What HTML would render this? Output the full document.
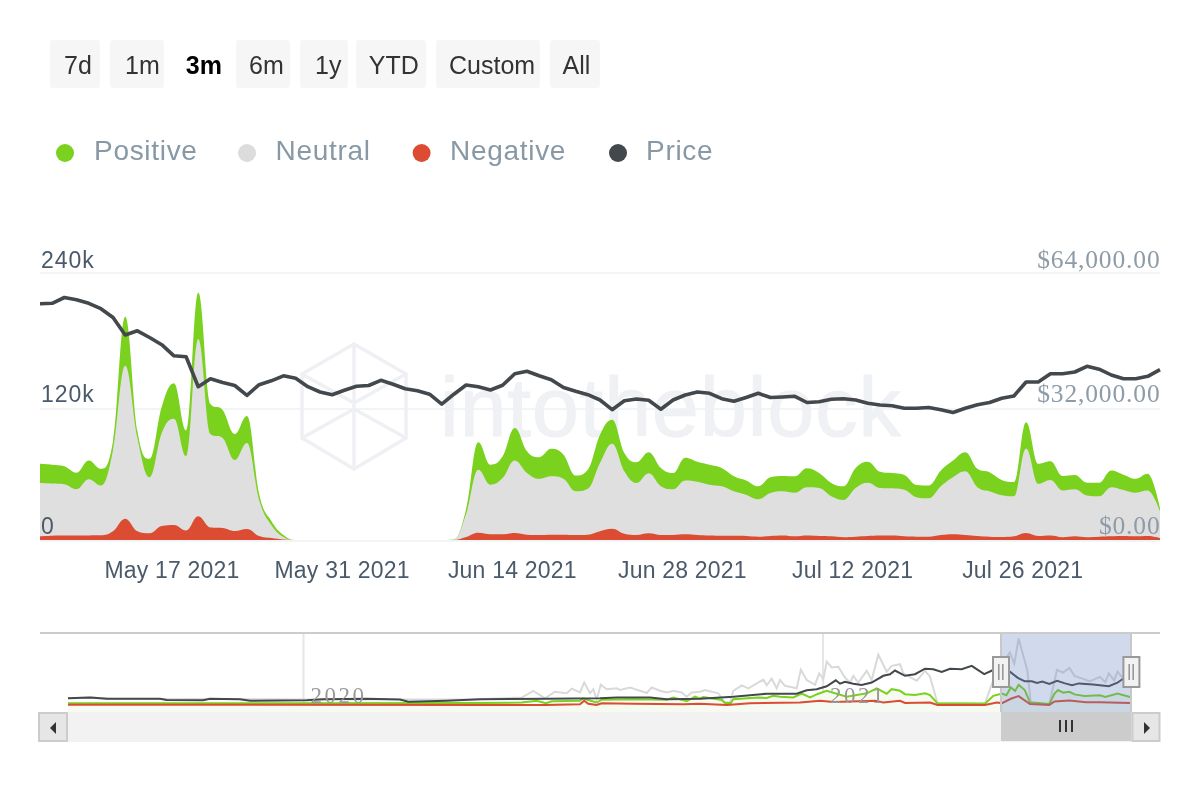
<!DOCTYPE html>
<html><head><meta charset="utf-8"><style>
html,body{margin:0;padding:0;background:#fff;width:1200px;height:800px;overflow:hidden}
svg text{font-family:'Liberation Sans',sans-serif}
svg{will-change:transform}
</style></head><body>
<svg width="1200" height="800" viewBox="0 0 1200 800" style="position:absolute;left:0;top:0">
<rect x="50" y="40" width="50" height="48" rx="3" fill="#f6f6f6"/>
<text x="64.0" y="74" font-size="25" font-weight="normal" fill="#333">7d</text>
<rect x="110" y="40" width="54" height="48" rx="3" fill="#f6f6f6"/>
<text x="125.0" y="74" font-size="25" font-weight="normal" fill="#333">1m</text>
<text x="185.8" y="74" font-size="25" font-weight="bold" fill="#000">3m</text>
<rect x="236" y="40" width="54" height="48" rx="3" fill="#f6f6f6"/>
<text x="249.0" y="74" font-size="25" font-weight="normal" fill="#333">6m</text>
<rect x="300" y="40" width="48" height="48" rx="3" fill="#f6f6f6"/>
<text x="315.0" y="74" font-size="25" font-weight="normal" fill="#333">1y</text>
<rect x="356" y="40" width="70" height="48" rx="3" fill="#f6f6f6"/>
<text x="368.8" y="74" font-size="25" font-weight="normal" fill="#333">YTD</text>
<rect x="436" y="40" width="104" height="48" rx="3" fill="#f6f6f6"/>
<text x="449.0" y="74" font-size="25" font-weight="normal" fill="#333">Custom</text>
<rect x="550" y="40" width="50" height="48" rx="3" fill="#f6f6f6"/>
<text x="562.5" y="74" font-size="25" font-weight="normal" fill="#333">All</text>
<circle cx="65.0" cy="153" r="9" fill="#7ad11e"/>
<text x="94.0" y="160" font-size="28" letter-spacing="0.7" fill="#8898a5">Positive</text>
<circle cx="247.0" cy="153" r="9" fill="#dcdcdc"/>
<text x="275.5" y="160" font-size="28" letter-spacing="0.7" fill="#8898a5">Neutral</text>
<circle cx="421.6" cy="153" r="9" fill="#dc4c33"/>
<text x="450.0" y="160" font-size="28" letter-spacing="0.7" fill="#8898a5">Negative</text>
<circle cx="618.0" cy="153" r="9" fill="#43484d"/>
<text x="646.0" y="160" font-size="28" letter-spacing="0.7" fill="#8898a5">Price</text>
<rect x="40" y="272" width="1120" height="2" fill="#f3f4f6"/>
<rect x="40" y="408" width="1120" height="2" fill="#f3f4f6"/>
<rect x="40" y="540" width="1120" height="2" fill="#f3f4f6"/>
<g fill="none" stroke="#eef0f4" stroke-width="3.5" stroke-linejoin="round" stroke-linecap="round"><path d="M354 344 L406 374 L406 438 L354 469 L302 438 L302 374 Z"/><path d="M302 374 L354 403 L406 374"/><path d="M302 438 L354 409 L406 438"/><path d="M354 344 V469"/></g>
<text x="440" y="436" font-size="84" letter-spacing="1.1" stroke="#eff1f4" stroke-width="1.2" fill="#eff1f4">intotheblock</text>
<path d="M40.00 463.80 C40.00 463.80 47.30 464.20 52.17 464.70 C57.04 465.20 59.48 464.70 64.35 466.30 C69.22 467.90 71.65 472.70 76.52 472.70 C81.39 472.70 83.83 460.50 88.70 460.50 C93.57 460.50 96.00 468.80 100.87 468.80 C105.74 468.80 108.17 468.80 113.04 441.00 C117.91 413.20 120.35 316.70 125.22 316.70 C130.09 316.70 132.52 403.20 137.39 431.00 C142.26 458.80 144.70 458.80 149.57 458.80 C154.43 458.80 156.87 421.80 161.74 406.70 C166.61 391.60 169.04 383.30 173.91 383.30 C178.78 383.30 181.22 430.50 186.09 430.50 C190.96 430.50 193.39 292.50 198.26 292.50 C203.13 292.50 205.57 398.00 210.43 404.00 C215.30 410.00 217.74 404.00 222.61 410.00 C227.48 416.00 229.91 434.00 234.78 434.00 C239.65 434.00 242.09 416.00 246.96 416.00 C251.83 416.00 254.26 473.00 259.13 494.00 C264.00 515.00 266.43 512.80 271.30 521.00 C276.17 529.20 278.61 531.20 283.48 535.00 C288.35 538.80 290.78 540.00 295.65 540.00 C300.52 540.00 302.96 540.00 307.83 540.00 C312.70 540.00 315.13 540.00 320.00 540.00 C324.87 540.00 327.30 540.00 332.17 540.00 C337.04 540.00 339.48 540.00 344.35 540.00 C349.22 540.00 351.65 540.00 356.52 540.00 C361.39 540.00 363.83 540.00 368.70 540.00 C373.57 540.00 376.00 540.00 380.87 540.00 C385.74 540.00 388.17 540.00 393.04 540.00 C397.91 540.00 400.35 540.00 405.22 540.00 C410.09 540.00 412.52 540.00 417.39 540.00 C422.26 540.00 424.70 540.00 429.57 540.00 C434.43 540.00 436.87 540.00 441.74 540.00 C446.61 540.00 449.04 540.00 453.91 539.50 C458.78 539.00 461.22 528.46 466.09 509.00 C470.96 489.54 473.39 442.20 478.26 442.20 C483.13 442.20 485.57 464.70 490.43 464.70 C495.30 464.70 497.74 463.64 502.61 456.30 C507.48 448.96 509.91 428.00 514.78 428.00 C519.65 428.00 522.09 445.46 526.96 451.30 C531.83 457.14 534.26 457.20 539.13 457.20 C544.00 457.20 546.43 448.80 551.30 448.80 C556.17 448.80 558.61 449.36 563.48 454.70 C568.35 460.04 570.78 475.50 575.65 475.50 C580.52 475.50 582.96 475.50 587.83 469.70 C592.70 463.90 595.13 444.70 600.00 434.70 C604.87 424.70 607.30 419.70 612.17 419.70 C617.04 419.70 619.48 444.50 624.35 453.00 C629.22 461.50 631.65 462.20 636.52 462.20 C641.39 462.20 643.83 452.20 648.70 452.20 C653.57 452.20 656.00 463.84 660.87 468.00 C665.74 472.16 668.17 473.00 673.04 473.00 C677.91 473.00 680.35 457.70 685.22 457.70 C690.09 457.70 692.52 460.30 697.39 461.70 C702.26 463.10 704.70 463.44 709.57 464.70 C714.43 465.96 716.87 465.68 721.74 468.00 C726.61 470.32 729.04 473.80 733.91 476.30 C738.78 478.80 741.22 478.50 746.09 480.50 C750.96 482.50 753.39 486.30 758.26 486.30 C763.13 486.30 765.57 478.40 770.43 477.20 C775.30 476.00 777.74 476.00 782.61 476.00 C787.48 476.00 789.91 476.30 794.78 476.30 C799.65 476.30 802.09 468.30 806.96 468.30 C811.83 468.30 814.26 470.06 819.13 473.00 C824.00 475.94 826.43 480.34 831.30 483.00 C836.17 485.66 838.61 486.30 843.48 486.30 C848.35 486.30 850.78 472.92 855.65 468.00 C860.52 463.08 862.96 461.70 867.83 461.70 C872.70 461.70 875.13 470.40 880.00 471.70 C884.87 473.00 887.30 472.34 892.17 473.00 C897.04 473.66 899.48 473.00 904.35 475.00 C909.22 477.00 911.65 484.50 916.52 485.00 C921.39 485.50 923.83 485.50 928.70 485.50 C933.57 485.50 936.00 475.50 940.87 470.50 C945.74 465.50 948.17 464.16 953.04 460.50 C957.91 456.84 960.35 452.20 965.22 452.20 C970.09 452.20 972.52 465.40 977.39 468.80 C982.26 472.20 984.70 469.96 989.57 472.20 C994.43 474.44 996.87 478.04 1001.74 480.00 C1006.61 481.96 1009.04 482.00 1013.91 482.00 C1018.78 482.00 1021.22 422.20 1026.09 422.20 C1030.96 422.20 1033.39 463.80 1038.26 463.80 C1043.13 463.80 1045.57 461.30 1050.43 461.30 C1055.30 461.30 1057.74 476.00 1062.61 476.00 C1067.48 476.00 1069.91 475.00 1074.78 475.00 C1079.65 475.00 1082.09 482.70 1086.96 482.70 C1091.83 482.70 1094.26 482.70 1099.13 482.70 C1104.00 482.70 1106.43 470.50 1111.30 470.50 C1116.17 470.50 1118.61 473.04 1123.48 474.70 C1128.35 476.36 1130.78 478.80 1135.65 478.80 C1140.52 478.80 1142.96 473.80 1147.83 473.80 C1152.70 473.80 1160.00 508.00 1160.00 508.00 L1160.00 540.00 L40.00 540.00 Z" fill="#7ad11e"/>
<path d="M40.00 483.00 C40.00 483.00 47.30 483.24 52.17 483.50 C57.04 483.76 59.48 483.50 64.35 484.30 C69.22 485.10 71.65 489.30 76.52 489.30 C81.39 489.30 83.83 479.30 88.70 479.30 C93.57 479.30 96.00 485.50 100.87 485.50 C105.74 485.50 108.17 473.94 113.04 450.00 C117.91 426.06 120.35 365.80 125.22 365.80 C130.09 365.80 132.52 415.72 137.39 438.00 C142.26 460.28 144.70 477.20 149.57 477.20 C154.43 477.20 156.87 444.68 161.74 433.00 C166.61 421.32 169.04 418.80 173.91 418.80 C178.78 418.80 181.22 456.30 186.09 456.30 C190.96 456.30 193.39 339.00 198.26 339.00 C203.13 339.00 205.57 430.00 210.43 434.00 C215.30 438.00 217.74 434.00 222.61 438.00 C227.48 442.00 229.91 460.00 234.78 460.00 C239.65 460.00 242.09 443.00 246.96 443.00 C251.83 443.00 254.26 483.60 259.13 500.00 C264.00 516.40 266.43 517.60 271.30 525.00 C276.17 532.40 278.61 534.00 283.48 537.00 C288.35 540.00 290.78 540.00 295.65 540.00 C300.52 540.00 302.96 540.00 307.83 540.00 C312.70 540.00 315.13 540.00 320.00 540.00 C324.87 540.00 327.30 540.00 332.17 540.00 C337.04 540.00 339.48 540.00 344.35 540.00 C349.22 540.00 351.65 540.00 356.52 540.00 C361.39 540.00 363.83 540.00 368.70 540.00 C373.57 540.00 376.00 540.00 380.87 540.00 C385.74 540.00 388.17 540.00 393.04 540.00 C397.91 540.00 400.35 540.00 405.22 540.00 C410.09 540.00 412.52 540.00 417.39 540.00 C422.26 540.00 424.70 540.00 429.57 540.00 C434.43 540.00 436.87 540.00 441.74 540.00 C446.61 540.00 449.04 540.00 453.91 539.70 C458.78 539.40 461.22 528.00 466.09 514.00 C470.96 500.00 473.39 469.70 478.26 469.70 C483.13 469.70 485.57 484.70 490.43 484.70 C495.30 484.70 497.74 482.84 502.61 478.00 C507.48 473.16 509.91 460.50 514.78 460.50 C519.65 460.50 522.09 469.34 526.96 473.00 C531.83 476.66 534.26 478.80 539.13 478.80 C544.00 478.80 546.43 476.30 551.30 476.30 C556.17 476.30 558.61 476.30 563.48 478.80 C568.35 481.30 570.78 491.30 575.65 491.30 C580.52 491.30 582.96 491.30 587.83 488.80 C592.70 486.30 595.13 472.00 600.00 463.00 C604.87 454.00 607.30 443.80 612.17 443.80 C617.04 443.80 619.48 463.46 624.35 471.30 C629.22 479.14 631.65 483.00 636.52 483.00 C641.39 483.00 643.83 473.30 648.70 473.30 C653.57 473.30 656.00 483.30 660.87 486.30 C665.74 489.30 668.17 489.30 673.04 489.30 C677.91 489.30 680.35 480.50 685.22 480.50 C690.09 480.50 692.52 480.86 697.39 481.70 C702.26 482.54 704.70 483.78 709.57 484.70 C714.43 485.62 716.87 484.98 721.74 486.30 C726.61 487.62 729.04 489.62 733.91 491.30 C738.78 492.98 741.22 493.10 746.09 494.70 C750.96 496.30 753.39 499.30 758.26 499.30 C763.13 499.30 765.57 494.60 770.43 493.00 C775.30 491.40 777.74 491.30 782.61 491.30 C787.48 491.30 789.91 492.70 794.78 492.70 C799.65 492.70 802.09 487.20 806.96 487.20 C811.83 487.20 814.26 487.20 819.13 488.00 C824.00 488.80 826.43 493.90 831.30 496.30 C836.17 498.70 838.61 500.00 843.48 500.00 C848.35 500.00 850.78 491.46 855.65 488.00 C860.52 484.54 862.96 482.70 867.83 482.70 C872.70 482.70 875.13 487.70 880.00 488.00 C884.87 488.30 887.30 488.00 892.17 488.30 C897.04 488.60 899.48 488.30 904.35 489.70 C909.22 491.10 911.65 496.10 916.52 497.20 C921.39 498.30 923.83 498.30 928.70 498.30 C933.57 498.30 936.00 490.52 940.87 486.30 C945.74 482.08 948.17 480.20 953.04 477.20 C957.91 474.20 960.35 471.30 965.22 471.30 C970.09 471.30 972.52 483.20 977.39 487.20 C982.26 491.20 984.70 489.68 989.57 491.30 C994.43 492.92 996.87 494.30 1001.74 495.30 C1006.61 496.30 1009.04 496.30 1013.91 496.30 C1018.78 496.30 1021.22 448.40 1026.09 448.40 C1030.96 448.40 1033.39 483.80 1038.26 483.80 C1043.13 483.80 1045.57 480.00 1050.43 480.00 C1055.30 480.00 1057.74 490.50 1062.61 490.50 C1067.48 490.50 1069.91 489.30 1074.78 489.30 C1079.65 489.30 1082.09 494.70 1086.96 495.50 C1091.83 496.30 1094.26 496.30 1099.13 496.30 C1104.00 496.30 1106.43 487.20 1111.30 487.20 C1116.17 487.20 1118.61 488.90 1123.48 490.00 C1128.35 491.10 1130.78 492.70 1135.65 492.70 C1140.52 492.70 1142.96 490.50 1147.83 490.50 C1152.70 490.50 1160.00 511.30 1160.00 511.30 L1160.00 540.00 L40.00 540.00 Z" fill="#dfdfe0"/>
<path d="M40.00 536.30 C40.00 536.30 47.30 535.94 52.17 535.80 C57.04 535.66 59.48 535.66 64.35 535.60 C69.22 535.54 71.65 535.54 76.52 535.50 C81.39 535.46 83.83 535.44 88.70 535.40 C93.57 535.36 96.00 535.40 100.87 535.30 C105.74 535.20 108.17 534.60 113.04 531.30 C117.91 528.00 120.35 518.80 125.22 518.80 C130.09 518.80 132.52 529.30 137.39 531.30 C142.26 533.30 144.70 533.30 149.57 533.30 C154.43 533.30 156.87 527.00 161.74 526.00 C166.61 525.00 169.04 525.00 173.91 525.00 C178.78 525.00 181.22 530.50 186.09 530.50 C190.96 530.50 193.39 516.30 198.26 516.30 C203.13 516.30 205.57 527.20 210.43 527.60 C215.30 528.00 217.74 527.60 222.61 528.00 C227.48 528.40 229.91 531.00 234.78 531.00 C239.65 531.00 242.09 529.00 246.96 529.00 C251.83 529.00 254.26 534.20 259.13 536.00 C264.00 537.80 266.43 537.30 271.30 538.00 C276.17 538.70 278.61 539.10 283.48 539.50 C288.35 539.90 290.78 540.00 295.65 540.00 C300.52 540.00 302.96 540.00 307.83 540.00 C312.70 540.00 315.13 540.00 320.00 540.00 C324.87 540.00 327.30 540.00 332.17 540.00 C337.04 540.00 339.48 540.00 344.35 540.00 C349.22 540.00 351.65 540.00 356.52 540.00 C361.39 540.00 363.83 540.00 368.70 540.00 C373.57 540.00 376.00 540.00 380.87 540.00 C385.74 540.00 388.17 540.00 393.04 540.00 C397.91 540.00 400.35 540.00 405.22 540.00 C410.09 540.00 412.52 540.00 417.39 540.00 C422.26 540.00 424.70 540.00 429.57 540.00 C434.43 540.00 436.87 540.00 441.74 540.00 C446.61 540.00 449.04 540.00 453.91 540.00 C458.78 540.00 461.22 538.46 466.09 537.00 C470.96 535.54 473.39 532.70 478.26 532.70 C483.13 532.70 485.57 534.30 490.43 534.30 C495.30 534.30 497.74 534.30 502.61 534.30 C507.48 534.30 509.91 533.00 514.78 533.00 C519.65 533.00 522.09 534.40 526.96 534.70 C531.83 535.00 534.26 535.00 539.13 535.00 C544.00 535.00 546.43 534.70 551.30 534.70 C556.17 534.70 558.61 534.70 563.48 534.70 C568.35 534.70 570.78 535.00 575.65 535.00 C580.52 535.00 582.96 535.00 587.83 534.70 C592.70 534.40 595.13 532.48 600.00 531.30 C604.87 530.12 607.30 528.80 612.17 528.80 C617.04 528.80 619.48 532.60 624.35 533.80 C629.22 535.00 631.65 535.00 636.52 535.00 C641.39 535.00 643.83 533.30 648.70 533.30 C653.57 533.30 656.00 535.00 660.87 535.00 C665.74 535.00 668.17 535.00 673.04 535.00 C677.91 535.00 680.35 534.30 685.22 534.30 C690.09 534.30 692.52 534.76 697.39 535.00 C702.26 535.24 704.70 535.34 709.57 535.50 C714.43 535.66 716.87 535.80 721.74 535.80 C726.61 535.80 729.04 535.80 733.91 535.80 C738.78 535.80 741.22 535.82 746.09 536.00 C750.96 536.18 753.39 536.70 758.26 536.70 C763.13 536.70 765.57 536.24 770.43 536.00 C775.30 535.76 777.74 535.50 782.61 535.50 C787.48 535.50 789.91 536.30 794.78 536.30 C799.65 536.30 802.09 535.50 806.96 535.50 C811.83 535.50 814.26 535.84 819.13 536.00 C824.00 536.16 826.43 536.06 831.30 536.30 C836.17 536.54 838.61 537.20 843.48 537.20 C848.35 537.20 850.78 536.94 855.65 536.70 C860.52 536.46 862.96 536.24 867.83 536.00 C872.70 535.76 875.13 535.50 880.00 535.50 C884.87 535.50 887.30 535.50 892.17 535.50 C897.04 535.50 899.48 536.06 904.35 536.30 C909.22 536.54 911.65 536.70 916.52 536.70 C921.39 536.70 923.83 536.70 928.70 536.70 C933.57 536.70 936.00 535.48 940.87 535.00 C945.74 534.52 948.17 534.30 953.04 534.30 C957.91 534.30 960.35 534.66 965.22 535.00 C970.09 535.34 972.52 535.66 977.39 536.00 C982.26 536.34 984.70 536.50 989.57 536.70 C994.43 536.90 996.87 537.00 1001.74 537.00 C1006.61 537.00 1009.04 537.00 1013.91 536.30 C1018.78 535.60 1021.22 533.00 1026.09 533.00 C1030.96 533.00 1033.39 536.00 1038.26 536.00 C1043.13 536.00 1045.57 535.50 1050.43 535.50 C1055.30 535.50 1057.74 537.20 1062.61 537.20 C1067.48 537.20 1069.91 536.30 1074.78 536.30 C1079.65 536.30 1082.09 537.20 1086.96 537.20 C1091.83 537.20 1094.26 536.88 1099.13 536.70 C1104.00 536.52 1106.43 536.44 1111.30 536.30 C1116.17 536.16 1118.61 536.00 1123.48 536.00 C1128.35 536.00 1130.78 536.30 1135.65 536.30 C1140.52 536.30 1142.96 536.00 1147.83 536.00 C1152.70 536.00 1160.00 538.00 1160.00 538.00 L1160.00 540.00 L40.00 540.00 Z" fill="#db4c33"/>
<path d="M40.00 303.70 L52.17 303.30 L64.35 297.50 L76.52 299.70 L88.70 303.30 L100.87 308.70 L113.04 317.50 L125.22 335.00 L137.39 330.80 L149.57 337.50 L161.74 344.70 L173.91 355.80 L186.09 356.70 L198.26 386.70 L210.43 378.70 L222.61 382.50 L234.78 385.50 L246.96 395.30 L259.13 384.70 L271.30 380.80 L283.48 375.80 L295.65 378.30 L307.83 386.70 L320.00 392.00 L332.17 394.70 L344.35 390.30 L356.52 386.30 L368.70 385.50 L380.87 380.30 L393.04 384.20 L405.22 388.70 L417.39 390.80 L429.57 394.20 L441.74 404.20 L453.91 394.20 L466.09 385.00 L478.26 386.70 L490.43 390.00 L502.61 385.30 L514.78 373.70 L526.96 371.30 L539.13 375.80 L551.30 379.70 L563.48 387.50 L575.65 391.30 L587.83 394.70 L600.00 400.00 L612.17 409.70 L624.35 400.80 L636.52 399.00 L648.70 400.30 L660.87 409.20 L673.04 400.00 L685.22 395.00 L697.39 392.00 L709.57 393.30 L721.74 398.70 L733.91 401.30 L746.09 397.50 L758.26 393.30 L770.43 397.50 L782.61 397.00 L794.78 396.30 L806.96 402.50 L819.13 401.70 L831.30 399.20 L843.48 398.70 L855.65 400.00 L867.83 403.30 L880.00 405.00 L892.17 405.80 L904.35 408.30 L916.52 408.30 L928.70 407.50 L940.87 409.70 L953.04 412.50 L965.22 408.30 L977.39 404.70 L989.57 402.50 L1001.74 398.30 L1013.91 396.00 L1026.09 382.00 L1038.26 382.00 L1050.43 373.70 L1062.61 373.70 L1074.78 372.00 L1086.96 366.30 L1099.13 369.20 L1111.30 375.00 L1123.48 378.70 L1135.65 378.70 L1147.83 376.30 L1160.00 369.70" fill="none" stroke="#43484c" stroke-width="3.6" stroke-linejoin="round"/>
<text x="41" y="268" font-size="23" letter-spacing="1" fill="#4b5a6b">240k</text>
<text x="41" y="402" font-size="23" letter-spacing="1" fill="#4b5a6b">120k</text>
<text x="41" y="534" font-size="23" letter-spacing="1" fill="#4b5a6b">0</text>
<text x="1160.5" y="268" font-size="25.5" letter-spacing="0.85" text-anchor="end" style="font-family:'Liberation Serif',serif" fill="#8d9ca8">$64,000.00</text>
<text x="1160.5" y="402" font-size="25.5" letter-spacing="0.85" text-anchor="end" style="font-family:'Liberation Serif',serif" fill="#8d9ca8">$32,000.00</text>
<text x="1160.5" y="534" font-size="25.5" letter-spacing="0.85" text-anchor="end" style="font-family:'Liberation Serif',serif" fill="#8d9ca8">$0.00</text>
<text x="172.0" y="578" font-size="23" letter-spacing="0.2" text-anchor="middle" fill="#4b5a6b">May 17 2021</text>
<text x="342.1" y="578" font-size="23" letter-spacing="0.2" text-anchor="middle" fill="#4b5a6b">May 31 2021</text>
<text x="512.3" y="578" font-size="23" letter-spacing="0.2" text-anchor="middle" fill="#4b5a6b">Jun 14 2021</text>
<text x="682.4" y="578" font-size="23" letter-spacing="0.2" text-anchor="middle" fill="#4b5a6b">Jun 28 2021</text>
<text x="852.6" y="578" font-size="23" letter-spacing="0.2" text-anchor="middle" fill="#4b5a6b">Jul 12 2021</text>
<text x="1022.7" y="578" font-size="23" letter-spacing="0.2" text-anchor="middle" fill="#4b5a6b">Jul 26 2021</text>
<rect x="40" y="632" width="1120" height="2" fill="#cccccc"/>
<rect x="302.5" y="634" width="2" height="78" fill="#e6e6e6"/>
<rect x="822" y="634" width="2" height="78" fill="#e6e6e6"/>
<path d="M68.0 703.3 L300.0 703.2 L480.0 703.0 L521.7 702.5 L536.7 700.8 L545.8 703.3 L551.7 701.2 L580.0 700.8 L583.3 698.3 L588.3 700.0 L596.7 702.5 L601.7 699.7 L633.3 699.2 L666.7 699.7 L673.3 697.5 L686.7 701.3 L695.0 696.7 L700.0 698.7 L703.3 697.0 L721.7 700.0 L725.0 703.0 L730.8 703.0 L733.3 699.2 L758.3 697.5 L766.7 698.0 L773.3 695.8 L780.0 696.7 L793.3 697.5 L801.7 693.7 L810.0 697.5 L818.3 693.7 L826.7 690.8 L836.7 693.7 L846.7 696.7 L856.7 695.0 L866.7 693.3 L876.7 688.3 L886.7 693.7 L891.7 689.2 L900.0 690.8 L905.0 694.2 L915.0 695.0 L925.0 693.3 L930.0 695.0 L937.5 703.3 L985.0 703.7 L993.3 695.8 L1002.0 693.5 L1006.4 695.3 L1010.8 687.4 L1015.1 690.9 L1018.6 684.8 L1024.8 690.0 L1030.0 702.3 L1049.3 704.0 L1054.5 693.5 L1058.0 690.0 L1063.3 692.6 L1069.4 691.8 L1074.6 694.4 L1084.3 696.1 L1100.0 695.3 L1105.3 697.0 L1117.5 693.5 L1130.0 697.0 L1130.0 712 L68.0 712 Z" fill="#f6faf1"/>
<path d="M68.0 698.3 L93.0 697.5 L110.0 698.7 L300.0 699.5 L480.0 699.2 L521.7 697.5 L533.3 690.8 L545.0 698.3 L555.0 691.7 L566.7 693.3 L571.7 688.7 L580.0 692.5 L584.2 682.5 L590.0 693.3 L593.3 689.2 L596.7 699.2 L600.8 684.7 L606.7 689.2 L616.7 688.3 L620.0 690.0 L630.0 687.5 L640.0 690.8 L646.7 693.0 L651.7 687.5 L660.0 690.8 L666.7 692.5 L673.3 690.8 L681.7 692.5 L686.7 696.7 L691.7 692.5 L700.0 691.7 L705.0 690.0 L718.3 693.3 L724.2 702.0 L730.0 702.5 L733.3 690.8 L741.7 685.3 L748.3 688.3 L763.3 679.7 L766.7 685.3 L771.7 678.7 L776.7 688.3 L780.0 680.0 L785.0 685.8 L796.7 688.3 L800.8 669.7 L806.7 680.0 L815.0 684.7 L819.2 673.3 L823.3 679.2 L826.7 661.7 L831.7 667.5 L838.3 666.7 L845.0 677.5 L850.0 682.5 L853.3 675.8 L858.3 682.5 L866.7 670.8 L871.7 680.0 L878.3 654.7 L886.7 671.7 L891.7 665.8 L900.0 664.2 L903.3 673.3 L916.7 680.8 L925.0 670.8 L930.0 676.7 L937.5 703.3 L985.0 703.3 L993.3 680.0 L1001.0 666.0 L1009.9 652.4 L1014.3 663.8 L1018.6 638.4 L1027.4 670.8 L1030.9 704.0 L1049.3 704.0 L1057.0 669.9 L1063.0 672.5 L1069.4 668.0 L1074.6 676.0 L1082.5 678.6 L1089.5 681.3 L1100.0 676.9 L1105.3 682.1 L1108.8 673.4 L1114.0 680.4 L1117.5 671.6 L1121.9 676.9 L1130.0 676.0" fill="none" stroke="#d9d9d9" stroke-width="2"/>
<path d="M68.0 703.3 L300.0 703.2 L480.0 703.0 L521.7 702.5 L536.7 700.8 L545.8 703.3 L551.7 701.2 L580.0 700.8 L583.3 698.3 L588.3 700.0 L596.7 702.5 L601.7 699.7 L633.3 699.2 L666.7 699.7 L673.3 697.5 L686.7 701.3 L695.0 696.7 L700.0 698.7 L703.3 697.0 L721.7 700.0 L725.0 703.0 L730.8 703.0 L733.3 699.2 L758.3 697.5 L766.7 698.0 L773.3 695.8 L780.0 696.7 L793.3 697.5 L801.7 693.7 L810.0 697.5 L818.3 693.7 L826.7 690.8 L836.7 693.7 L846.7 696.7 L856.7 695.0 L866.7 693.3 L876.7 688.3 L886.7 693.7 L891.7 689.2 L900.0 690.8 L905.0 694.2 L915.0 695.0 L925.0 693.3 L930.0 695.0 L937.5 703.3 L985.0 703.7 L993.3 695.8 L1002.0 693.5 L1006.4 695.3 L1010.8 687.4 L1015.1 690.9 L1018.6 684.8 L1024.8 690.0 L1030.0 702.3 L1049.3 704.0 L1054.5 693.5 L1058.0 690.0 L1063.3 692.6 L1069.4 691.8 L1074.6 694.4 L1084.3 696.1 L1100.0 695.3 L1105.3 697.0 L1117.5 693.5 L1130.0 697.0" fill="none" stroke="#7ad11e" stroke-width="2"/>
<path d="M68.0 704.7 L500.0 705.0 L545.0 705.0 L580.0 704.2 L584.2 700.8 L588.3 703.7 L596.7 705.0 L601.7 703.3 L633.3 703.7 L683.3 704.2 L700.0 703.7 L726.7 705.0 L750.0 703.3 L800.0 702.5 L820.0 700.8 L833.3 702.0 L875.0 700.8 L883.3 702.5 L900.0 700.8 L905.0 703.0 L930.0 702.5 L937.5 705.0 L985.0 705.0 L996.7 702.5 L1002.0 703.1 L1010.8 698.8 L1018.6 696.1 L1030.0 704.0 L1049.3 704.9 L1054.5 701.4 L1069.4 700.5 L1086.0 702.3 L1100.0 702.3 L1130.0 703.1" fill="none" stroke="#db4c33" stroke-width="2"/>
<path d="M68.0 698.3 L90.0 697.5 L106.7 698.7 L160.0 698.7 L166.7 700.0 L203.0 700.3 L210.0 698.7 L240.0 699.3 L250.0 700.8 L306.7 700.3 L323.0 699.2 L366.7 698.7 L400.0 699.5 L408.3 701.8 L446.7 700.8 L480.0 699.2 L546.7 698.7 L600.0 698.3 L616.7 697.5 L650.0 697.5 L666.7 699.2 L700.0 698.7 L733.3 696.7 L766.7 693.7 L796.7 693.7 L806.7 690.3 L816.7 689.2 L826.7 686.3 L835.8 680.3 L840.0 683.7 L845.0 681.7 L853.3 683.7 L861.7 685.0 L871.7 682.5 L883.3 675.8 L890.0 674.2 L895.0 670.5 L905.0 675.8 L915.0 674.2 L925.0 668.7 L933.3 669.2 L941.7 672.0 L950.0 668.7 L961.7 669.2 L971.7 665.8 L984.2 674.2 L992.5 670.3 L1001.0 669.0 L1009.9 671.6 L1017.8 677.8 L1024.8 681.3 L1031.8 681.3 L1037.0 683.0 L1042.3 681.6 L1049.3 683.9 L1057.1 680.9 L1065.0 683.4 L1072.0 685.1 L1079.0 683.4 L1093.0 684.4 L1108.8 686.2 L1117.5 682.7 L1121.9 679.5 L1130.0 676.0" fill="none" stroke="#43484c" stroke-width="2"/>
<text x="310.5" y="703" font-size="23" letter-spacing="2.5" style="font-family:'Liberation Serif',serif" fill="#999">2020</text>
<text x="830" y="703" font-size="23" letter-spacing="2.5" style="font-family:'Liberation Serif',serif" fill="#999">2021</text>
<rect x="1001" y="634" width="130" height="78" fill="rgb(102,133,194)" fill-opacity="0.3"/>
<rect x="1000" y="634" width="2" height="78" fill="#c8c8c8"/>
<rect x="1130" y="634" width="2" height="78" fill="#c8c8c8"/>
<rect x="993.0" y="657" width="16" height="30" fill="#f2f2f2" stroke="#999" stroke-width="2"/>
<rect x="998.0" y="664" width="1.6" height="16" fill="#999"/>
<rect x="1002.0" y="664" width="1.6" height="16" fill="#999"/>
<rect x="1123.4" y="657" width="16" height="30" fill="#f2f2f2" stroke="#999" stroke-width="2"/>
<rect x="1128.4" y="664" width="1.6" height="16" fill="#999"/>
<rect x="1132.4" y="664" width="1.6" height="16" fill="#999"/>
<rect x="40" y="712" width="1120" height="30" fill="#f2f2f2"/>
<rect x="1001" y="712" width="130.5" height="29" fill="#cccccc"/>
<rect x="1059" y="720" width="2" height="12" fill="#333"/>
<rect x="1065" y="720" width="2" height="12" fill="#333"/>
<rect x="1071" y="720" width="2" height="12" fill="#333"/>
<rect x="39" y="713" width="28" height="28" fill="#e6e6e6" stroke="#cccccc" stroke-width="2"/>
<path d="M50 728 L56 722 L56 734 Z" fill="#333"/>
<rect x="1132.5" y="713" width="27" height="28" fill="#e6e6e6" stroke="#cccccc" stroke-width="2"/>
<path d="M1150 728 L1144 722 L1144 734 Z" fill="#333"/>
</svg>
</body></html>
